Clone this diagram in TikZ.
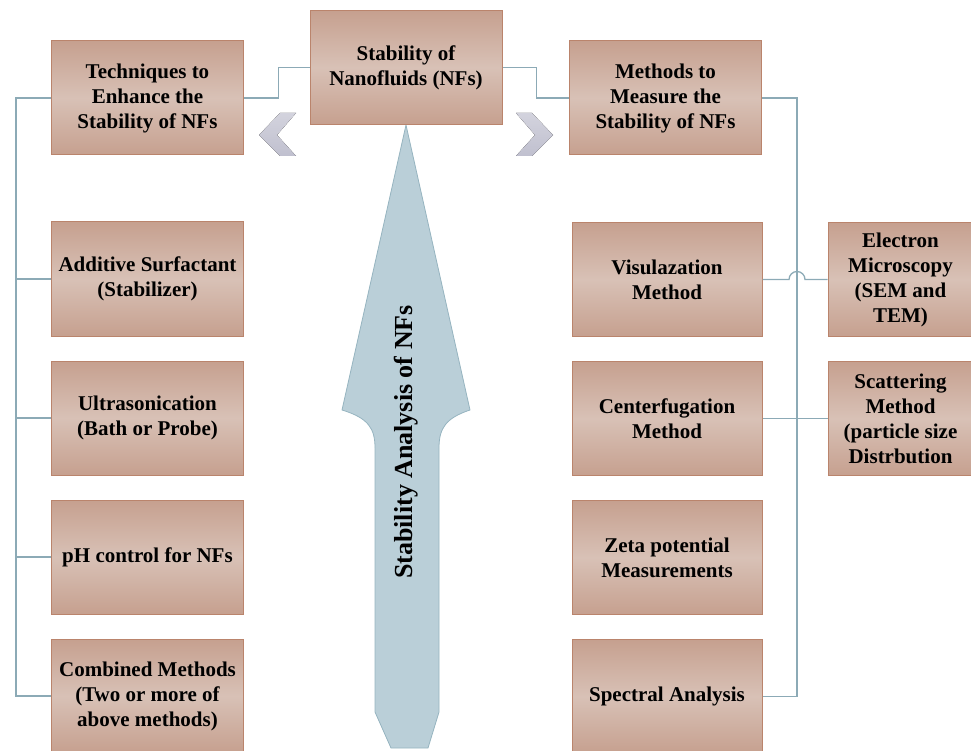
\documentclass[tikz,border=0pt]{standalone}
\usepackage{fontspec}
\setmainfont{Liberation Serif}
\usetikzlibrary{positioning, calc, backgrounds}
\definecolor{nfbrown}{RGB}{198,160,143}
\definecolor{nflight}{RGB}{216,193,182}
\definecolor{nfedge}{RGB}{186,132,108}
\definecolor{nflink}{RGB}{140,170,182}
\definecolor{nfarrow}{RGB}{186,207,216}
\definecolor{nfarrowedge}{RGB}{150,180,192}
\definecolor{nfchev}{RGB}{192,192,207}

\begin{document}
\begin{tikzpicture}[
    x=1pt, y=-1pt,
    box/.style={rectangle, draw=nfedge, line width=1pt,
                top color=nfbrown, bottom color=nfbrown, middle color=nflight,
                minimum width=192pt, minimum height=114pt, inner sep=2pt,
                align=center, font=\bfseries\fontsize{21}{25}\selectfont},
    sidebox/.style={box, minimum width=145pt},
    link/.style={draw=nflink, line width=1.3pt},
    chev/.style={top color=nfchev!70, bottom color=nfchev, draw=none}
  ]
    \useasboundingbox (0,0) rectangle (971,751);
    % top row
    \node[box] (stab) at (406,67.5) {Stability of\\Nanofluids (NFs)};
    \node[box] (tech) at (147.5,98) {Techniques to\\Enhance the\\Stability of NFs};
    \node[box] (meth) at (665.5,98) {Methods to\\Measure the\\Stability of NFs};
    % left column
    \node[box, below=66pt of tech] (add)   {Additive Surfactant\\(Stabilizer)};
    \node[box, below=24pt of add]  (ultra) {Ultrasonication\\(Bath or Probe)};
    \node[box, below=24pt of ultra] (ph)   {pH control for NFs};
    \node[box, below=24pt of ph]   (comb)  {Combined Methods\\(Two or more of\\above methods)};
    % right column
    \node[box, minimum width=190pt] (vis) at (667,279.5) {Visulazation\\Method};
    \node[box, minimum width=190pt, below=24pt of vis]  (cent) {Centerfugation\\Method};
    \node[box, minimum width=190pt, below=24pt of cent] (zeta) {Zeta potential\\Measurements};
    \node[box, minimum width=190pt, below=24pt of zeta] (spec) {Spectral Analysis};
    \node[sidebox, right=65pt of vis]  (elec) {Electron\\Microscopy\\(SEM and\\TEM)};
    \node[sidebox, right=65pt of cent] (scat) {Scattering\\Method\\(particle size\\Distrbution};
    % big arrow label
    \node[rotate=90, font=\bfseries\fontsize{26}{30}\selectfont] (axis) at (406,442) {Stability Analysis of NFs};

    \begin{scope}[on background layer]
    \fill[nfarrow, draw=nfarrowedge, line width=0.8pt] (stab.south) -- (470,410)
        .. controls (446,418) and (439,428) .. (439,448) -- (439,712) -- (428,748)
        -- (391,748) -- (375,712) -- (375,448)
        .. controls (375,428) and (368,418) .. (342,410) -- cycle;
    \end{scope}

    % chevrons
    \fill[chev] (280,113) -- (296,113) -- (277,135) -- (296,156) -- (280,156) -- (259,135) -- cycle;
    \fill[chev] (532,113) -- (516,113) -- (535,135) -- (516,156) -- (532,156) -- (553,135) -- cycle;

    % connectors
    \draw[link] (stab.west) -- ++(-31,0) |- (tech.east);
    \draw[link] (stab.east) -- ++(34,0) |- (meth.west);
    \coordinate (lb) at ([xshift=-35pt]tech.west);
    \coordinate (rb) at ([xshift=35pt]meth.east);
    \draw[link] (tech.west) -- (lb) |- (comb.west);
    \foreach \n in {add,ultra,ph}
        \draw[link] (\n.west) -- (\n.west -| lb);
    \draw[link] (meth.east) -- (rb) |- (spec.east);
    \draw[link] (vis.east) -- ($(vis.east -| rb)+(-8,0)$)
        arc[start angle=180, end angle=0, radius=8pt] -- (elec.west);
    \draw[link] (cent.east) -- (scat.west);
\end{tikzpicture}
\end{document}
